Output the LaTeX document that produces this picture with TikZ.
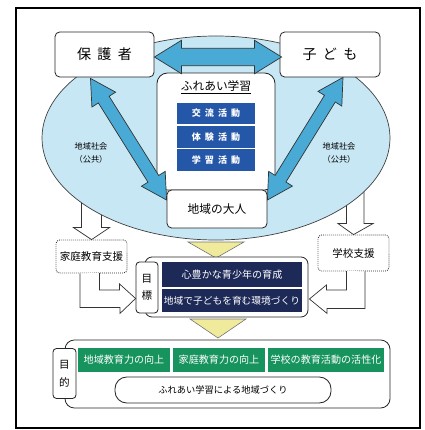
\documentclass[tikz,border=0pt]{standalone}
\usepackage{fontspec}
\setmainfont{Noto Sans CJK JP}
\usetikzlibrary{calc}

\definecolor{ellipseblue}{HTML}{C7E7F4}
\definecolor{arrowblue}{HTML}{4AAAD6}
\definecolor{actblue}{HTML}{2457A7}
\definecolor{goalnavy}{HTML}{1D2A57}
\definecolor{aimgreen}{HTML}{17935E}
\definecolor{chevyellow}{HTML}{F0EA9C}

\newcommand\gap{\hspace{.45em}}
\newcommand\fs[2]{\fontsize{#1}{#2}\selectfont}

% fat double arrow: from, to, head length, head half width, shaft half width
\newcommand\fatarrow[5]{%
  \coordinate (fa-p) at ($(#1)!#3!(#2)$);
  \coordinate (fa-q) at ($(#2)!#3!(#1)$);
  \filldraw[bluearrow] (#1) -- ($(fa-p)!#4!90:(#2)$) -- ($(fa-p)!#5!90:(#2)$)
    -- ($(fa-q)!#5!-90:(#1)$) -- ($(fa-q)!#4!-90:(#1)$) -- (#2)
    -- ($(fa-q)!#4!90:(#1)$) -- ($(fa-q)!#5!90:(#1)$)
    -- ($(fa-p)!#5!-90:(#2)$) -- ($(fa-p)!#4!-90:(#2)$) -- cycle;}

\tikzset{
  box/.style={draw=black!85, fill=white, rounded corners=4pt, line width=0.7pt, inner sep=0pt},
  supportbox/.style={box, densely dotted, rounded corners=3pt, font=\fs{9}{11}},
  bluearrow/.style={fill=arrowblue, draw=black!80, line width=0.6pt},
  hollow/.style={fill=white, draw=black!80, line width=0.6pt},
  chevron/.style={fill=chevyellow, draw=black!55, line width=0.5pt},
  actbox/.style={fill=actblue, text=white, inner sep=0pt, minimum width=2.34cm,
    minimum height=0.65cm, font=\fs{7.7}{9}\bfseries},
  goalbox/.style={fill=goalnavy, text=white, inner sep=0pt, minimum width=4.2cm},
  aimbox/.style={fill=aimgreen, text=white, inner sep=0pt, minimum height=0.72cm,
    font=\fs{8.6}{10}},
  tag/.style={box, rounded corners=3pt, align=center, minimum width=0.66cm}
}

\begin{document}
\begin{tikzpicture}[x=0.03cm, y=-0.03cm]
\useasboundingbox (0,0) rectangle (424,430);
\draw[line width=1.2pt] (16,8) rectangle (420,428);

% support boxes and the white arrows into them
\node[supportbox, minimum width=2.13cm, minimum height=0.99cm] (kasei) at (91.5,256.5) {家庭教育支援};
\node[supportbox, minimum width=2.13cm, minimum height=1.08cm] (gakko) at (353.5,253) {学校支援};
\draw[hollow] ($(kasei.north)+(-10,-50)$) -- ++(0,38) -- ++(-8,0) -- (kasei.north)
  -- ++(18,-12) -- ++(-8,0) -- ++(0,-38) -- cycle;
\draw[hollow] ($(gakko.north)+(-7,-50)$) -- ++(0,39) -- ++(-8.5,0) -- (gakko.north)
  -- ++(19.5,-11) -- ++(-9,0) -- ++(0,-39) -- cycle;

% community circle
\filldraw[fill=ellipseblue, draw=black!75, line width=0.6pt] (216,138) ellipse [x radius=174, y radius=102];

\node[box, minimum width=2.97cm, minimum height=1.35cm, font=\fs{12}{14}] (hogo) at (104.5,54.5) {保\gap 護\gap 者};
\node[box, minimum width=3.0cm, minimum height=1.35cm, font=\fs{12}{14}] (kodomo) at (330,54.5) {子\gap ど\gap も};
\node[box, rounded corners=9pt, minimum width=3.54cm, minimum height=3.51cm] (fureai) at (216,131.5) {};
\node[font=\fs{10}{12}] (fureaititle) at (216,87) {\underline{ふれあい学習}};
\foreach \t [count=\i] in {交\gap 流\gap 活\gap 動, 体\gap 験\gap 活\gap 動, 学\gap 習\gap 活\gap 動}
  \node[actbox] (act\i) at (216,{90.25+23.25*\i}) {\t};
\node[box, minimum width=3.0cm, minimum height=1.14cm, font=\fs{10}{12}] (otona) at (217,209) {地域の大人};

\node[align=center, font=\fs{7}{11}] (commL) at (91,153) {地域社会\\（公共）};
\node[align=center, font=\fs{7}{11}] (commR) at (339,153) {地域社会\\（公共）};

% two-way arrows
\coordinate (hogoR) at ($(hogo.east)+(0,2.5)$);
\coordinate (kodomoL) at ($(kodomo.west)+(2,2.5)$);
\fatarrow{hogoR}{kodomoL}{0.81cm}{0.5cm}{0.26cm}
\coordinate (hogoB) at ($(hogo.south)+(-14,1)$);
\coordinate (otonaL) at ($(otona.west)+(0,-9)$);
\fatarrow{hogoB}{otonaL}{0.75cm}{0.42cm}{0.19cm}
\coordinate (kodomoB) at ($(kodomo.south)+(13,0)$);
\coordinate (otonaR) at ($(otona.east)+(0,-9)$);
\fatarrow{kodomoB}{otonaR}{0.75cm}{0.42cm}{0.19cm}

% goal
\filldraw[chevron] (188,242) -- (244,242) -- (216,258) -- cycle;
\node[box, rounded corners=6pt, minimum width=4.89cm, minimum height=1.8cm] (goal) at (226.5,287) {};
\node[tag, minimum height=1.53cm, font=\fs{9}{15}] (goaltag) at (147,287.5) {目\\標};
\node[goalbox, minimum height=0.75cm, font=\fs{8.6}{10}] (goal1) at (232,274.5) {心豊かな青少年の育成};
\node[goalbox, minimum height=0.69cm, font=\fs{8.3}{10}] (goal2) at (232,300.5) {地域で子どもを育む環境づくり};

\coordinate (ktip) at ($(goaltag.west)+(0,11)$);
\filldraw[hollow] ($(kasei.south)+(-11.5,0)$) -- ++(0,34) -- ++(40,0) -- ++(0,6) -- (ktip)
  -- ++(-16,-14.5) -- ++(0,6) -- ++(-20,0) -- ++(0,-17);
\coordinate (gtip) at ($(goal.east)+(1,12)$);
\filldraw[hollow] ($(gakko.south)+(11.5,0)$) -- ++(0,37) -- ++(-38,0) -- ++(0,5) -- (gtip)
  -- ++(17,-14) -- ++(0,5) -- ++(20,0) -- ++(0,-19);

% aim
\filldraw[chevron] (190,319) -- (246,319) -- (218,338) -- cycle;
\node[box, rounded corners=8pt, minimum width=9.75cm, minimum height=2.04cm] (aim) at (227.5,374) {};
\node[tag, minimum width=0.69cm, minimum height=1.5cm, font=\fs{9}{15}] (aimtag) at (64.5,373.5) {目\\的};
\node[aimbox, minimum width=2.76cm] (aim1) at (124,360) {地域教育力の向上};
\node[aimbox, minimum width=2.76cm] (aim2) at (219,360) {家庭教育力の向上};
\node[aimbox, minimum width=3.48cm] (aim3) at (326,360) {学校の教育活動の活性化};
\node[box, rounded corners=10pt, minimum width=6.48cm, minimum height=0.78cm, font=\fs{7.9}{10}] (pill) at (223,390) {ふれあい学習による地域づくり};
\end{tikzpicture}
\end{document}
